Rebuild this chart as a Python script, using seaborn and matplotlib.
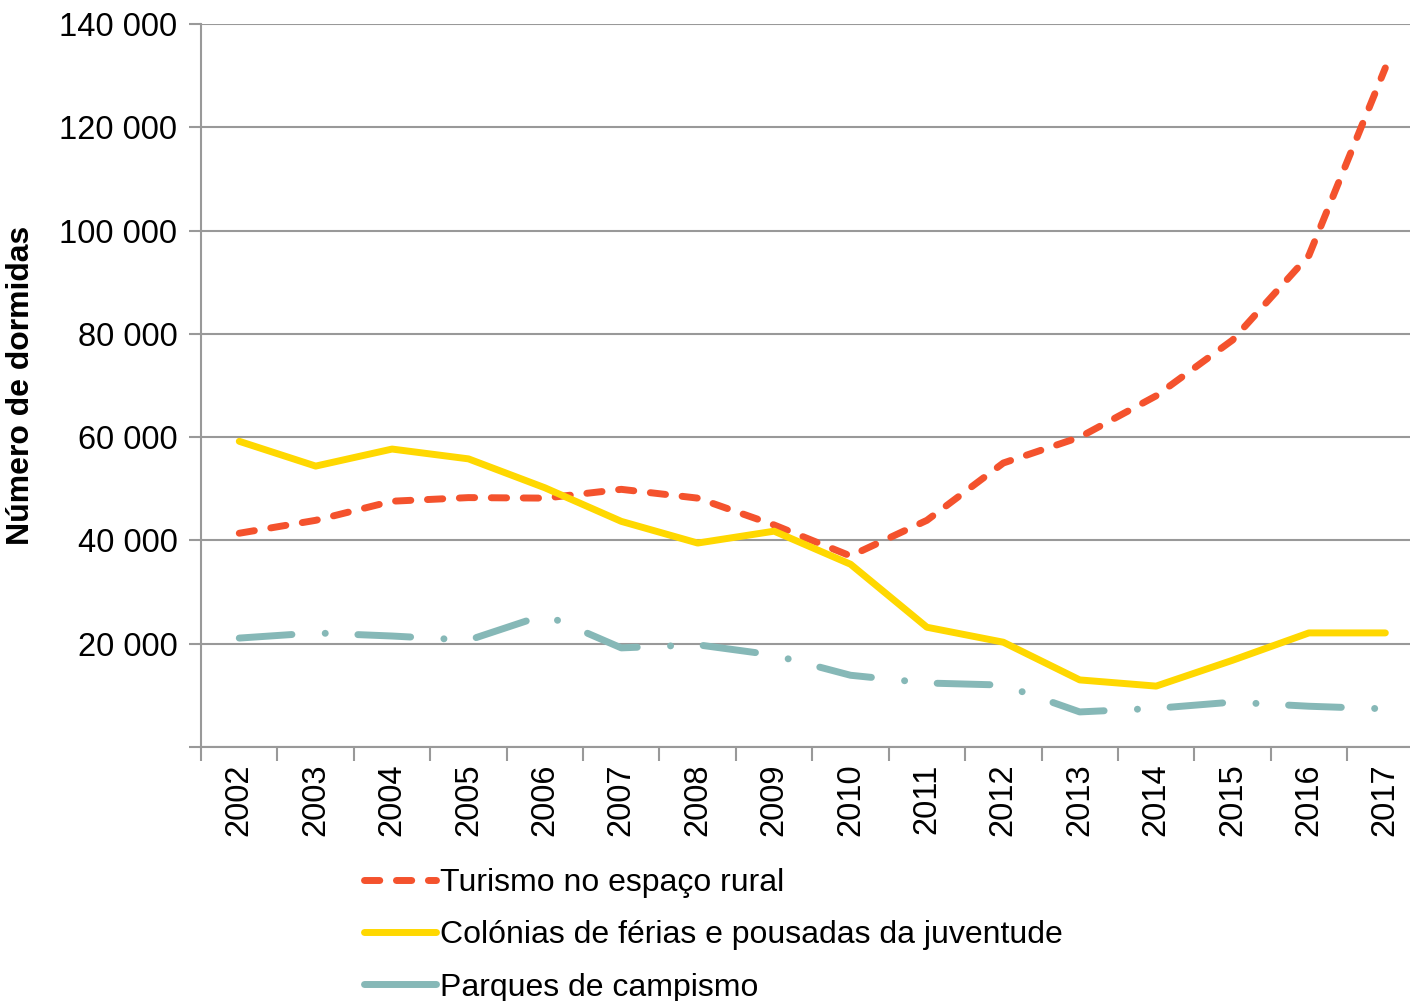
import numpy as np
import pandas as pd
import seaborn as sns
import matplotlib.pyplot as plt
from matplotlib.lines import Line2D
from matplotlib.ticker import FuncFormatter, FixedLocator

# Values
years = [2002, 2003, 2004, 2005, 2006, 2007, 2008, 2009,
         2010, 2011, 2012, 2013, 2014, 2015, 2016, 2017]
turismo = [41400, 43900, 47600, 48300, 48200, 49900, 48200, 43000,
           37000, 43900, 55000, 60000, 68000, 78800, 95200, 131500]
colonias = [59200, 54400, 57700, 55800, 50200, 43700, 39500, 41800,
            35400, 23200, 20300, 13000, 11800, 16800, 22100, 22100]
parques = [21100, 22100, 21500, 20700, 25600, 19200, 19800, 17800,
           13900, 12400, 12000, 6800, 7500, 8700, 7900, 7400]

labels = ['Turismo no espaço rural',
          'Colónias de férias e pousadas da juventude',
          'Parques de campismo']
colors = ['#F4522D', '#FFD800', '#86B8B7']

sns.set_theme(style='white')
plt.rcParams['font.family'] = ['Liberation Sans', 'DejaVu Sans']

df = pd.DataFrame({'pos': np.arange(len(years)),
                   labels[0]: turismo, labels[1]: colonias, labels[2]: parques})

fig = plt.figure(figsize=(14.1, 10.01), dpi=100)
# the plot area runs a little past the right edge, as in the reference crop
ax = fig.add_axes([0.1426, 0.2537, 0.867, 0.7223])

lw = 5
sns.lineplot(data=df, x='pos', y=labels[0], ax=ax, color=colors[0], lw=lw,
             label=labels[0], dashes=(2.2, 2.4), dash_capstyle='round')
sns.lineplot(data=df, x='pos', y=labels[1], ax=ax, color=colors[1], lw=lw,
             label=labels[1], solid_capstyle='round')
sns.lineplot(data=df, x='pos', y=labels[2], ax=ax, color=colors[2], lw=lw,
             label=labels[2], dashes=(7.6, 4.8, 0.01, 4.7), dash_capstyle='round')

ax.set_xlim(-0.5, len(years) - 0.5)
ax.set_ylim(0, 140000)
ax.yaxis.set_major_locator(FixedLocator(np.arange(0, 140001, 20000)))
ax.yaxis.set_major_formatter(
    FuncFormatter(lambda v, p: '' if v == 0 else f'{int(v):,}'.replace(',', ' ')))
ax.grid(axis='y', color='#999999', lw=1.5)
ax.set_axisbelow(True)

# category axis: ticks on boundaries, labels in the middle
ax.xaxis.set_major_locator(FixedLocator(np.arange(-0.5, len(years), 1)))
ax.xaxis.set_major_formatter(FuncFormatter(lambda v, p: ''))
ax.xaxis.set_minor_locator(FixedLocator(np.arange(len(years))))
ax.set_xticklabels([str(y) for y in years], minor=True, rotation=90)
ax.tick_params(axis='x', which='major', length=10, width=1.5, color='#999999',
               direction='out', bottom=True)
ax.tick_params(axis='x', which='minor', length=0, labelsize=23.5, pad=12,
               labelcolor='black')
ax.tick_params(axis='y', length=9, width=1.5, color='#999999', direction='out',
               left=True, labelsize=23.5, pad=8, labelcolor='black')

for s in ['top', 'right']:
    ax.spines[s].set_visible(False)
for s in ['left', 'bottom']:
    ax.spines[s].set_color('#999999')
    ax.spines[s].set_linewidth(1.5)

ax.set_xlabel('')
ax.set_ylabel('Número de dormidas', fontsize=23, fontweight='bold', labelpad=17,
              color='black')

ax.get_legend().remove()
handles, lbls = ax.get_legend_handles_labels()
# the campismo key shows as a plain solid stroke in the reference
handles[2] = Line2D([], [], color=colors[2], lw=lw, solid_capstyle='round')
leg = fig.legend(handles, lbls, loc='upper left', bbox_to_anchor=(0.2585, 0.133),
                 frameon=False, fontsize=23, handlelength=2.25, handletextpad=0.1,
                 labelspacing=0.7, borderaxespad=0, borderpad=0)
for t in leg.get_texts():
    t.set_color('black')

fig.savefig('out.png', dpi=100)
